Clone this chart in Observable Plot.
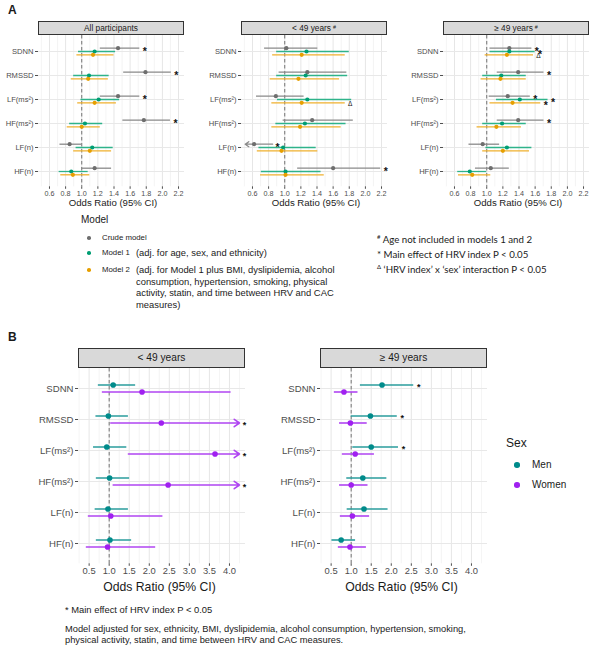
<!DOCTYPE html>
<html><head><meta charset="utf-8">
<script src="https://cdn.jsdelivr.net/npm/d3@7"></script>
<script src="https://cdn.jsdelivr.net/npm/@observablehq/plot@0.6"></script>
<style>
body{margin:0;background:#fff;}
#root{position:relative;width:600px;height:651px;overflow:hidden;font-family:"Liberation Sans",Arial,sans-serif;color:#1a1a1a;}
.t{position:absolute;white-space:nowrap;line-height:1;}
.strip{position:absolute;background:#d9d9d9;border:0.8px solid #333;box-sizing:border-box;display:flex;align-items:center;justify-content:center;color:#1a1a1a;white-space:nowrap;}
.strip sup{font-size:65%;margin-left:2px;position:relative;top:-1px;}
.dotk{position:absolute;border-radius:50%;}
sup{line-height:0;}
</style></head><body><div id="root"></div><script>
// ---------- data ----------
const hrvIndex = ["SDNN","RMSSD","LF(ms²)","HF(ms²)","LF(n)","HF(n)"];
const modelNames = ["Crude model","Model 1","Model 2"];
const modelNotes = ["", "(adj. for age, sex, and ethnicity)",
  "(adj. for Model 1 plus BMI, dyslipidemia, alcohol<br>consumption, hypertension, smoking, physical<br>activity, statin, and time between HRV and CAC<br>measures)"];
const modelColors = ["#6e6e6e","#009E73","#E69F00"];
const modelLineColors = ["#8a8a8a","#2fb38a","#efb02e"];
const facetA = ["All participants","< 49 years","≥ 49 years"];
const facetAMark = ["","#","#"];
const sexNames = ["Men","Women"];
const sexColors = ["#008B8B","#A020F0"];
const sexLineColors = ["#2a9d9d","#b045f2"];
const facetB = ["< 49 years","≥ 49 years"];
const ticksA = [0.6,0.8,1.0,1.2,1.4,1.6,1.8,2.0,2.2];
const minorA = [0.5,0.7,0.9,1.1,1.3,1.5,1.7,1.9,2.1];
const ticksB = [0.5,1.0,1.5,2.0,2.5,3.0,3.5,4.0];
const minorB = [0.25,0.75,1.25,1.75,2.25,2.75,3.25,3.75,4.25];
const lowerCapA = 0.51;   // truncated lower CI (arrow)
const upperCapB = 4.25;   // truncated upper CI (arrow)

// Panel A — rows: HRV index; columns: [crude, model 1, model 2]
const allOR = [[1.45,1.16,1.14],[1.79,1.09,1.08],[1.45,1.21,1.16],[1.77,1.04,1.00],[0.85,1.13,1.10],[1.16,0.87,0.89]];
const allLo = [[1.23,0.96,0.94],[1.52,0.90,0.87],[1.23,0.99,0.95],[1.51,0.85,0.82],[0.73,0.93,0.90],[1.00,0.72,0.74]];
const allHi = [[1.72,1.42,1.40],[2.11,1.34,1.33],[1.72,1.47,1.43],[2.10,1.26,1.23],[1.00,1.39,1.37],[1.37,1.08,1.10]];
const allSig = [["*","",""],["*","",""],["*","",""],["*","",""],["","",""],["","",""]];

const youngOR = [[1.02,1.27,1.21],[1.28,1.26,1.17],[0.89,1.28,1.21],[1.34,1.25,1.19],[0.62,0.98,0.96],[1.60,1.01,1.01]];
const youngLo = [[0.75,0.90,0.85],[0.93,0.90,0.82],[0.65,0.91,0.84],[0.98,0.89,0.84],[null,0.68,0.66],[1.16,0.71,0.70]];
const youngHi = [[1.41,1.80,1.75],[1.77,1.78,1.68],[1.24,1.83,1.75],[1.85,1.76,1.70],[0.85,1.39,1.41],[2.19,1.45,1.49]];
const youngSig = [["","",""],["","",""],["","","Δ"],["","",""],["*","",""],["*","",""]];

const oldOR = [[1.28,1.28,1.25],[1.39,1.18,1.17],[1.26,1.41,1.32],[1.39,1.19,1.12],[0.95,1.25,1.20],[1.05,0.79,0.82]];
const oldLo = [[1.04,1.04,0.98],[1.13,0.95,0.93],[1.03,1.12,1.04],[1.13,0.95,0.88],[0.78,0.99,0.95],[0.86,0.64,0.65]];
const oldHi = [[1.56,1.60,1.58],[1.71,1.49,1.49],[1.54,1.76,1.67],[1.71,1.49,1.43],[1.16,1.56,1.53],[1.28,1.00,1.05]];
const oldSig = [["*","*","Δ"],["*","",""],["*","*","*"],["*","",""],["","",""],["","",""]];

// Panel B — rows: HRV index; columns: [men, women]
const sexYoungOR = [[1.10,1.82],[0.98,2.30],[0.94,3.64],[1.01,2.47],[0.97,1.04],[1.02,0.96]];
const sexYoungLo = [[0.73,0.83],[0.67,1.04],[0.61,1.48],[0.68,1.10],[0.65,0.48],[0.68,0.43]];
const sexYoungHi = [[1.66,4.04],[1.48,null],[1.44,null],[1.51,null],[1.48,2.34],[1.56,2.16]];
const sexYoungSig = [["",""],["","*"],["","*"],["","*"],["",""],["",""]];

const sexOldOR = [[1.77,0.82],[1.48,0.98],[1.50,1.10],[1.29,1.00],[1.32,1.03],[0.75,0.97]];
const sexOldLo = [[1.23,0.58],[1.00,0.71],[1.04,0.78],[0.89,0.71],[0.90,0.73],[0.52,0.68]];
const sexOldHi = [[2.56,1.17],[2.15,1.40],[2.18,1.58],[1.89,1.42],[1.92,1.46],[1.11,1.38]];
const sexOldSig = [["*",""],["*",""],["*",""],["",""],["",""],["",""]];

// ---------- helpers ----------
const root = document.getElementById("root");
function addText(html, x, y, style = {}, center = false) {
  const d = document.createElement("div");
  d.className = "t";
  d.innerHTML = html;
  d.style.left = x + "px"; d.style.top = y + "px";
  d.style.transform = center ? "translate(-50%,-50%)" : "translateY(-50%)";
  Object.assign(d.style, style);
  root.appendChild(d);
  return d;
}
function addStrip(title, mark, x, y, w, h, fs) {
  const d = document.createElement("div");
  d.className = "strip";
  Object.assign(d.style, {left: x + "px", top: y + "px", width: w + "px", height: h + "px", fontSize: fs + "px"});
  const s = document.createElement("span"); s.textContent = title; d.appendChild(s);
  if (mark) { const sp = document.createElement("sup"); sp.textContent = mark; d.appendChild(sp); }
  root.appendChild(d);
}
function addDot(x, y, r, color) {
  const d = document.createElement("div");
  d.className = "dotk";
  Object.assign(d.style, {left: (x - r) + "px", top: (y - r) + "px", width: 2 * r + "px", height: 2 * r + "px", background: color});
  root.appendChild(d);
}

function forest(c) {
  const rows = [];
  hrvIndex.forEach((h, i) => c.groups.forEach((g, j) =>
    rows.push({hrv: h, group: j, or: c.OR[i][j], lo: c.LO[i][j], hi: c.HI[i][j], sig: c.SIG[i][j]})));
  const marks = [
    Plot.gridX({ticks: c.minor, stroke: "#ececec", strokeOpacity: 1, strokeWidth: 0.6}),
    Plot.gridX({ticks: c.ticks, stroke: "#e6e6e6", strokeOpacity: 1, strokeWidth: 1}),
    Plot.gridY({stroke: "#e8e8e8", strokeOpacity: 1, strokeWidth: 1}),
    Plot.ruleX([1], {stroke: "#666", strokeWidth: 0.9, strokeDasharray: "3.5,2.5"})
  ];
  c.groups.forEach((g, j) => {
    const gr = rows.filter(d => d.group === j);
    const dy = c.offsets[j];
    const full = gr.filter(d => d.lo != null && d.hi != null);
    const cutHi = gr.filter(d => d.hi == null);
    const cutLo = gr.filter(d => d.lo == null);
    const lc = c.lineColors[j];
    marks.push(Plot.ruleY(full, {y: "hrv", x1: "lo", x2: "hi", dy, stroke: lc, strokeWidth: c.lw}));
    if (cutHi.length) marks.push(Plot.arrow(cutHi, {x1: "lo", x2: () => c.capHi, y1: "hrv", y2: "hrv", dy, stroke: lc, strokeWidth: c.lw, headLength: 6, headAngle: 70}));
    if (cutLo.length) marks.push(Plot.arrow(cutLo, {x1: "hi", x2: () => c.capLo, y1: "hrv", y2: "hrv", dy, stroke: lc, strokeWidth: c.lw, headLength: 5, headAngle: 70}));
    marks.push(Plot.dot(gr, {x: "or", y: "hrv", dy, r: c.r, fill: c.colors[j], stroke: "none"}));
    marks.push(Plot.text(gr.filter(d => d.sig === "*"), {x: d => d.hi ?? c.capHi, y: "hrv", text: "sig", dx: c.starDx, dy: dy + c.starDy, fontSize: c.starFont, fontWeight: "bold", fill: "#111"}));
    marks.push(Plot.text(gr.filter(d => d.sig === "Δ"), {x: d => d.hi ?? c.capHi, y: "hrv", text: "sig", dx: c.starDx, dy: dy + 1, fontSize: 6.5, fill: "#111"}));
  });
  marks.push(Plot.axisX({ticks: c.ticks, tickFormat: d3.format(".1f"), tickSize: 2.5, tickPadding: 1.5, fontSize: c.tickFont, color: "#4d4d4d", label: null}));
  marks.push(Plot.axisY({tickSize: 3, tickPadding: 2, fontSize: c.yFont, color: "#4d4d4d", label: null}));
  const svg = Plot.plot({
    width: c.mL + c.pw, height: c.ph + c.mB,
    marginLeft: c.mL, marginRight: 0, marginTop: 0, marginBottom: c.mB,
    x: {domain: c.domain, label: null},
    y: {type: "point", domain: hrvIndex, padding: 0.6, label: null},
    style: {fontFamily: "'Liberation Sans', Arial, sans-serif", overflow: "visible", background: "transparent"},
    marks
  });
  svg.style.position = "absolute";
  svg.style.left = (c.left - c.mL) + "px";
  svg.style.top = c.top + "px";
  root.appendChild(svg);
}

// ---------- panel A ----------
const A = {top: 35, ph: 151.3, pw: 146, lefts: [38, 241, 443], domain: [0.464, 2.274]};
const aData = [[allOR, allLo, allHi, allSig], [youngOR, youngLo, youngHi, youngSig], [oldOR, oldLo, oldHi, oldSig]];
aData.forEach(([OR, LO, HI, SIG], k) => {
  forest({OR, LO, HI, SIG, groups: modelNames, colors: modelColors, lineColors: modelLineColors, offsets: [-3.3, 0, 3.3],
    domain: A.domain, ticks: ticksA, minor: minorA, pw: A.pw, ph: A.ph, mL: 42, mB: 14,
    tickFont: 7.2, yFont: 7.6, lw: 1.3, r: 2.1, starFont: 10.5, starDx: 5, starDy: 3,
    capLo: lowerCapA, capHi: null, left: A.lefts[k], top: A.top});
  addStrip(facetA[k], facetAMark[k], A.lefts[k], 21, A.pw, 14.2, 8.3);
  addText("Odds Ratio (95% CI)", A.lefts[k] + A.pw / 2 + 2, 203, {fontSize: "9.6px"}, true);
});
addText("A", 8, 10, {fontSize: "12px", fontWeight: "bold"});

// legend A
addText("Model", 81, 220, {fontSize: "10px"});
const legY = [238, 253, 270];
modelNames.forEach((m, j) => {
  addDot(89, legY[j], 1.8, modelColors[j]);
  addText(m, 102, legY[j], {fontSize: "7.8px"});
  if (modelNotes[j]) {
    addText(modelNotes[j], 136, legY[j] - 5.7, {fontSize: "9.4px", lineHeight: "11.5px", transform: "none"});
  }
});
const notesFont = {fontSize: "9.7px", fontFamily: "Lato, 'Open Sans', sans-serif"};
addText("<sup style='font-size:6px'>#</sup> Age not included in models 1 and 2", 377, 240, notesFont);
addText("* Main effect of HRV index P &lt; 0.05", 377, 255, notesFont);
addText("<sup style='font-size:6px'>Δ</sup> ‘HRV index’ x ‘sex’ interaction P &lt; 0.05", 377, 270, notesFont);

// ---------- panel B ----------
const B = {top: 368, ph: 195.3, pw: 167, lefts: [78, 320], domain: [0.235, 4.40]};
const bData = [[sexYoungOR, sexYoungLo, sexYoungHi, sexYoungSig], [sexOldOR, sexOldLo, sexOldHi, sexOldSig]];
bData.forEach(([OR, LO, HI, SIG], k) => {
  forest({OR, LO, HI, SIG, groups: sexNames, colors: sexColors, lineColors: sexLineColors, offsets: [-3.5, 3.5],
    domain: B.domain, ticks: ticksB, minor: minorB, pw: B.pw, ph: B.ph, mL: 62, mB: 16,
    tickFont: 9.4, yFont: 9.6, lw: 1.6, r: 2.8, starFont: 9, starDx: 5, starDy: 2.5,
    capLo: null, capHi: upperCapB, left: B.lefts[k], top: B.top});
  addStrip(facetB[k], "", B.lefts[k], 348, B.pw, 19.5, 10.2);
  addText("Odds Ratio (95% CI)", B.lefts[k] + B.pw / 2 - 2, 587, {fontSize: "12.2px"}, true);
});
addText("B", 8, 337, {fontSize: "12px", fontWeight: "bold"});

// legend B
addText("Sex", 506, 443, {fontSize: "12px"});
const legBY = [465, 485];
sexNames.forEach((s, j) => {
  addDot(517, legBY[j], 2.8, sexColors[j]);
  addText(s, 532, legBY[j], {fontSize: "10px"});
});
addText("* Main effect of HRV index P &lt; 0.05", 65, 610, {fontSize: "9.4px"});
addText("Model adjusted for sex, ethnicity, BMI, dyslipidemia, alcohol consumption, hypertension, smoking,<br>physical activity, statin, and time between HRV and CAC measures.", 65, 624, {fontSize: "9.3px", lineHeight: "11px", transform: "none"});
</script></body></html>
